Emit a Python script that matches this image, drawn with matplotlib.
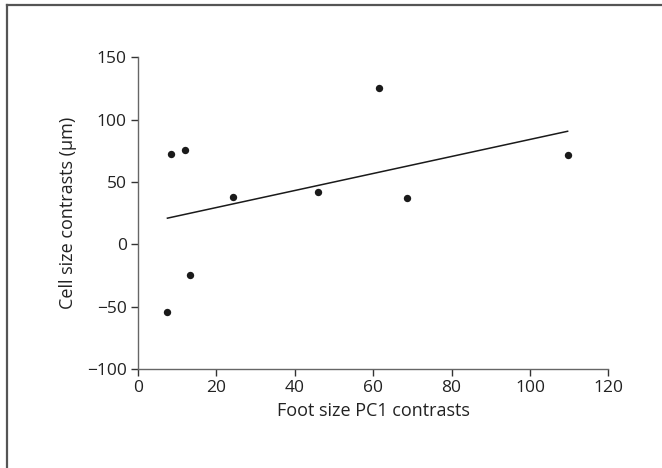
import matplotlib
matplotlib.use("Agg")
import matplotlib.pyplot as plt
from matplotlib.lines import Line2D

plt.rcParams['font.family'] = ['Open Sans', 'DejaVu Sans']

# data
foot_pc1 = [7.5, 8.5, 11.9, 13.3, 24.2, 46.0, 61.5, 68.5, 109.6]
cell_size = [-54.0, 72.5, 75.5, -24.2, 37.8, 42.1, 125.2, 37.3, 71.9]
# regression line end points
fit_x = [7.5, 109.6]
fit_y = [21.0, 90.7]

xticks = [0, 20, 40, 60, 80, 100, 120]
yticks = [-100, -50, 0, 50, 100, 150]

fig = plt.figure(figsize=(6.62, 4.68), dpi=100)
ax = fig.add_axes([0.2085, 0.2115, 0.7105, 0.666])

ax.plot(fit_x, fit_y, color='#1a1a1a', lw=1.1)
ax.plot(foot_pc1, cell_size, 'o', color='#1a1a1a', ms=5.3, mec='none')

ax.set_xlim(0, 120)
ax.set_ylim(-100, 150)
ax.set_xticks(xticks)
ax.set_yticks(yticks)

for s in ['top', 'right']:
    ax.spines[s].set_visible(False)
for s in ['left', 'bottom']:
    ax.spines[s].set_color('#666666')
    ax.spines[s].set_linewidth(1.0)
ax.tick_params(length=5, width=1.0, color='#333333', labelsize=12.5,
               labelcolor='#222222', pad=3)

ax.set_xlabel('Foot size PC1 contrasts', fontsize=13, color='#222222', labelpad=4)
ax.set_ylabel('Cell size contrasts (μm)', fontsize=13, color='#222222', labelpad=7)

# frame lines (left and top only) around the figure
fig.lines.append(Line2D([7 / 662, 7 / 662], [0, 1 - 5 / 468], transform=fig.transFigure,
                        color='#555555', lw=1.6))
fig.lines.append(Line2D([7 / 662, 1], [1 - 5 / 468, 1 - 5 / 468], transform=fig.transFigure,
                        color='#555555', lw=1.6))

fig.savefig('out.png', dpi=100)
